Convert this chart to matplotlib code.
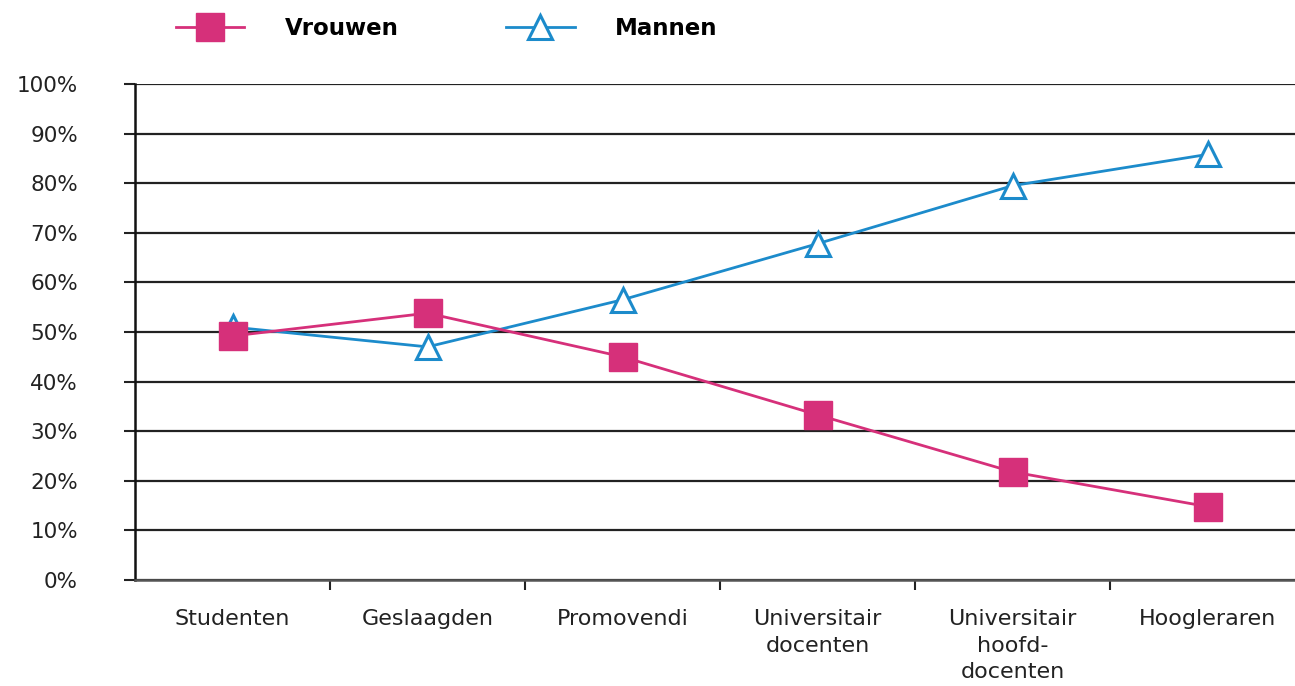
import matplotlib.pyplot as plt
from matplotlib.ticker import FixedLocator, PercentFormatter

plt.rcParams['font.family'] = ['DejaVu Sans']

# Categories (x axis)
categories = ["Studenten", "Geslaagden", "Promovendi", "Universitair\ndocenten",
              "Universitair\nhoofd-\ndocenten", "Hoogleraren"]

# Share per group (%)
vrouwen = [49.2, 53.8, 45.0, 33.3, 21.8, 14.8]
mannen = [51.0, 47.0, 56.5, 67.8, 79.5, 85.8]

pink = '#D6307A'
blue = '#1C8BCB'

fig = plt.figure(figsize=(12.95, 6.86), dpi=100)
ax = fig.add_axes([135 / 1295, 1 - 580 / 686, 1170 / 1295, 496 / 686])

x = range(len(categories))
ax.plot(x, mannen, color=blue, lw=2, marker='^', ms=17, mfc='white',
        mec=blue, mew=2.2, label='Mannen', zorder=3)
ax.plot(x, vrouwen, color=pink, lw=2, marker='s', ms=20, mfc=pink,
        mec=pink, label='Vrouwen', zorder=4)

ax.set_xlim(-0.5, len(categories) - 0.5)
ax.set_ylim(0, 100)
ax.set_yticks(range(0, 101, 10))
ax.yaxis.set_major_formatter(PercentFormatter(decimals=0))
ax.grid(axis='y', color='#222222', lw=1.6, zorder=1)
ax.set_axisbelow(True)

ax.set_xticks(list(x))
ax.set_xticklabels(categories, fontsize=16, linespacing=1.4, color='#222222')
ax.xaxis.set_minor_locator(FixedLocator([i + 0.5 for i in range(len(categories) - 1)]))
ax.tick_params(axis='x', which='major', length=0, pad=21)
ax.tick_params(axis='x', which='minor', length=7, width=1.5, color='#222222')
ax.tick_params(axis='y', length=8, width=1.5, color='#222222', labelsize=15.5,
               labelcolor='#222222', pad=33)
for lab in ax.get_xticklabels():
    lab.set_va('top')

for side in ['top', 'right']:
    ax.spines[side].set_visible(False)
ax.spines['left'].set_color('#111111')
ax.spines['left'].set_linewidth(1.8)
ax.spines['bottom'].set_color('#555555')
ax.spines['bottom'].set_linewidth(1.8)

handles, labels = ax.get_legend_handles_labels()
leg = fig.legend(handles[::-1], labels[::-1], loc='upper left',
                 bbox_to_anchor=(155 / 1295, 1.005), ncol=2, frameon=False,
                 handlelength=3.0, handletextpad=1.75, columnspacing=4.7,
                 prop={'weight': 'bold', 'size': 16.5})

fig.savefig('out.png', dpi=100)
